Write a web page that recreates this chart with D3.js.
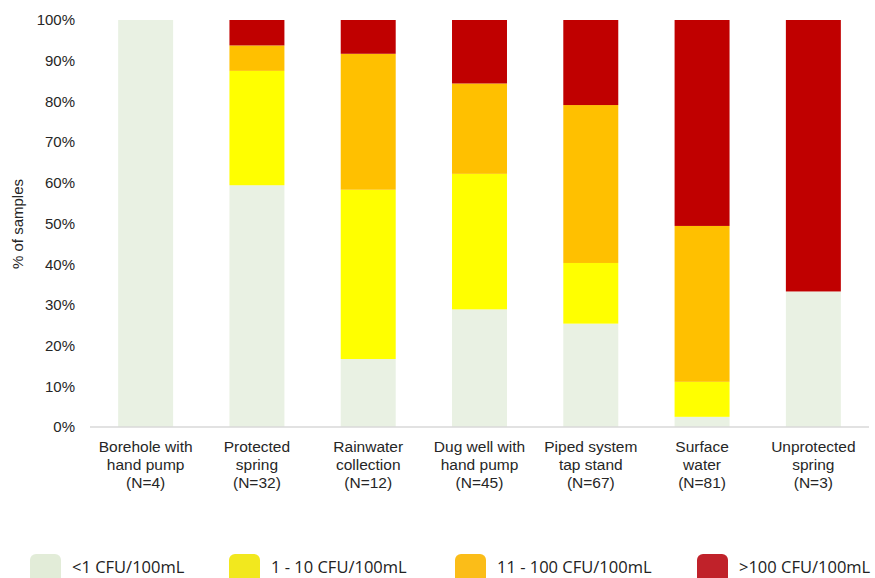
<!DOCTYPE html>
<html>
<head>
<meta charset="utf-8">
<script src="https://cdn.jsdelivr.net/npm/d3@7"></script>
<style>
  html, body { margin: 0; padding: 0; background: #fff; }
  svg { display: block; }
</style>
</head>
<body>
<svg id="chart" width="875" height="578"></svg>
<script>
// Water source types, with sample counts shown as a third label line
const categories = [
  ["Borehole with", "hand pump", "(N=4)"],
  ["Protected", "spring", "(N=32)"],
  ["Rainwater", "collection", "(N=12)"],
  ["Dug well with", "hand pump", "(N=45)"],
  ["Piped system", "tap stand", "(N=67)"],
  ["Surface", "water", "(N=81)"],
  ["Unprotected", "spring", "(N=3)"]
];

// Share of samples (%) in each E. coli risk band, per source type
const lt1     = [100.0, 59.4, 16.7, 28.9, 25.4,  2.5, 33.3];
const from1   = [  0.0, 28.1, 41.6, 33.3, 14.9,  8.6,  0.0];
const from11  = [  0.0,  6.25, 33.4, 22.2, 38.8, 38.3,  0.0];
const over100 = [  0.0,  6.25,  8.3, 15.6, 20.9, 50.6, 66.7];

const seriesNames = ["<1 CFU/100mL", "1 - 10 CFU/100mL", "11 - 100 CFU/100mL", ">100 CFU/100mL"];
const barColors = ["#e9f1e3", "#ffff00", "#ffc000", "#c00000"];
const legendColors = ["#e2ecd8", "#f2e81e", "#fbbd18", "#c0222a"];

const yTicks = [0, 10, 20, 30, 40, 50, 60, 70, 80, 90, 100];

const svg = d3.select("#chart");
const plot = { left: 90, right: 869, top: 20, bottom: 427 };

const rows = categories.map((c, i) => ({
  key: i,
  lt1: lt1[i], from1: from1[i], from11: from11[i], over100: over100[i]
}));
const keys = ["lt1", "from1", "from11", "over100"];
const stacked = d3.stack().keys(keys)(rows);

const x = d3.scaleBand()
  .domain(d3.range(categories.length))
  .range([plot.left, plot.right])
  .paddingInner(0.506)
  .paddingOuter(0.253);

const y = d3.scaleLinear().domain([0, 100]).range([plot.bottom, plot.top]);

// Stacked bars
svg.append("g").selectAll("g")
  .data(stacked)
  .join("g")
  .attr("fill", (d, i) => barColors[i])
  .selectAll("rect")
  .data(d => d)
  .join("rect")
  .attr("x", (d, i) => x(i))
  .attr("width", x.bandwidth())
  .attr("y", d => y(Math.min(100, d[1])))
  .attr("height", d => Math.max(0, y(d[0]) - y(Math.min(100, d[1]))));

// Baseline
svg.append("line")
  .attr("x1", plot.left).attr("x2", plot.right)
  .attr("y1", y(0)).attr("y2", y(0))
  .attr("stroke", "#d9d9d9").attr("stroke-width", 1.5);

// Y axis tick labels
const yAxis = d3.axisLeft(y)
  .tickValues(yTicks)
  .tickFormat(d => d + "%")
  .tickSize(0)
  .tickPadding(0);
const yg = svg.append("g")
  .attr("transform", "translate(75,0)")
  .call(yAxis);
yg.select(".domain").remove();
yg.selectAll("text")
  .attr("font-family", "Liberation Sans, Arial, sans-serif")
  .attr("font-size", 15)
  .attr("fill", "#262626");

// Y axis title
svg.append("text")
  .attr("transform", "translate(23,224) rotate(-90)")
  .attr("text-anchor", "middle")
  .attr("font-family", "Liberation Sans, Arial, sans-serif")
  .attr("font-size", 15)
  .attr("fill", "#262626")
  .text("% of samples");

// Category labels
const xg = svg.append("g");
categories.forEach((lines, i) => {
  const t = xg.append("text")
    .attr("x", x(i) + x.bandwidth() / 2)
    .attr("text-anchor", "middle")
    .attr("font-family", "Liberation Sans, Arial, sans-serif")
    .attr("font-size", 15.5)
    .attr("fill", "#262626");
  lines.forEach((ln, j) => {
    t.append("tspan")
      .attr("x", x(i) + x.bandwidth() / 2)
      .attr("y", 452 + j * 18)
      .text(ln);
  });
});

// Legend
const legendX = [30, 229, 455, 697];
const lg = svg.append("g");
seriesNames.forEach((name, i) => {
  lg.append("rect")
    .attr("x", legendX[i]).attr("y", 554)
    .attr("width", 31).attr("height", 34)
    .attr("rx", 6)
    .attr("fill", legendColors[i]);
  lg.append("text")
    .attr("x", legendX[i] + 42).attr("y", 573)
    .attr("font-family", "Open Sans, sans-serif")
    .attr("font-size", 16.5)
    .attr("fill", "#222")
    .text(name);
});
</script>
</body>
</html>
